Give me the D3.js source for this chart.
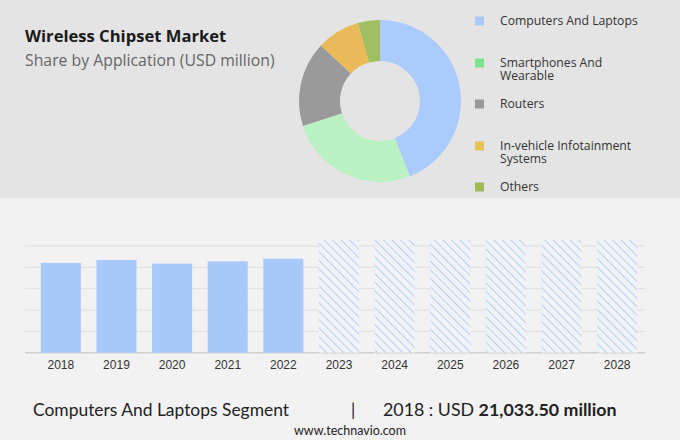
<!DOCTYPE html>
<html>
<head>
<meta charset="utf-8">
<script src="https://cdn.jsdelivr.net/npm/d3@7"></script>
<style>
  html, body { margin: 0; padding: 0; background: #f2f2f3; }
  svg { display: block; }
</style>
</head>
<body>
<svg id="chart" width="680" height="440"></svg>
<script>
// ---- data ----
const segments = ["Computers And Laptops", "Smartphones And Wearable", "Routers", "In-vehicle Infotainment Systems", "Others"];
const legendLines = [["Computers And Laptops"], ["Smartphones And", "Wearable"], ["Routers"], ["In-vehicle Infotainment", "Systems"], ["Others"]];
const shares = [44, 26, 17, 8.6, 4.4];
const sliceColors = ["#abcbfd", "#b9f1c3", "#9a9a9a", "#eab958", "#9fbf60"];
const legendColors = ["#a9c9fb", "#7fe08f", "#9a9a9a", "#e6c253", "#9cbb58"];

const years = ["2018", "2019", "2020", "2021", "2022", "2023", "2024", "2025", "2026", "2027", "2028"];
const actualValues = [21033.5, 21720, 20850, 21390, 22020];
const forecastCap = 26400;           // hatched placeholder bars for forecast years
const gridTicks = [0, 5000, 10000, 15000, 20000, 25000];

const title = "Wireless Chipset Market";
const subtitle = "Share by Application (USD million)";
const footerSegment = "Computers And Laptops Segment";
const footerYear = "2018 : USD ";
const footerValue = "21,033.50 million";
const source = "www.technavio.com";

// ---- drawing ----
const svg = d3.select("#chart");

svg.append("rect").attr("x", 0).attr("y", 0).attr("width", 680).attr("height", 440).attr("fill", "#f2f2f3");
svg.append("rect").attr("x", 0).attr("y", 0).attr("width", 680).attr("height", 198).attr("fill", "#e4e4e4");

const defs = svg.append("defs");
const pat = defs.append("pattern").attr("id", "hatch")
  .attr("patternUnits", "userSpaceOnUse").attr("width", 6).attr("height", 6)
  .attr("patternTransform", "rotate(45)");
pat.append("rect").attr("width", 6).attr("height", 6).attr("fill", "#eff2f7");
pat.append("line").attr("x1", 0).attr("y1", 0).attr("x2", 6).attr("y2", 0)
  .attr("stroke", "#b3cdf2").attr("stroke-width", 1.8);

// titles
svg.append("text").attr("x", 25).attr("y", 42).text(title)
  .attr("font-family", "'Open Sans', sans-serif").attr("font-weight", 700)
  .attr("font-size", 16.6).attr("fill", "#1a1a1a");
svg.append("text").attr("x", 25).attr("y", 66).text(subtitle)
  .attr("font-family", "'Open Sans', sans-serif")
  .attr("font-size", 15.8).attr("fill", "#666");

// donut
const pie = d3.pie().sort(null).value(d => d);
const arc = d3.arc().innerRadius(40).outerRadius(81);
const g = svg.append("g").attr("transform", "translate(380,101)");
g.selectAll("path").data(pie(shares)).join("path")
  .attr("d", arc).attr("fill", (d, i) => sliceColors[i]);

// legend
const legendY = [21, 63, 104, 146, 187];
const lg = svg.append("g");
legendLines.forEach((lines, i) => {
  lg.append("rect").attr("x", 475).attr("y", legendY[i] - 4.5).attr("width", 9).attr("height", 9)
    .attr("fill", legendColors[i]);
  const y0 = legendY[i] + 4;
  lines.forEach((l, j) => {
    lg.append("text").attr("x", 500).attr("y", y0 + j * 12.5).text(l)
      .attr("font-family", "'Open Sans', sans-serif")
      .attr("font-size", 12.2).attr("fill", "#333");
  });
});

// bar chart
const x = d3.scaleBand().domain(years).range([33, 645]).paddingInner(0.28).paddingOuter(0.14);
const y = d3.scaleLinear().domain([0, forecastCap]).range([352.7, 240]);

const grid = svg.append("g");
grid.selectAll("line").data(gridTicks).join("line")
  .attr("x1", 25).attr("x2", 645)
  .attr("y1", d => y(d)).attr("y2", d => y(d))
  .attr("stroke", d => d === 0 ? "#cfcfcf" : "#dedede").attr("stroke-width", d => d === 0 ? 1.5 : 1);

svg.append("g").selectAll("rect").data(years.slice(actualValues.length)).join("rect")
  .attr("x", d => x(d)).attr("width", x.bandwidth())
  .attr("y", y(forecastCap)).attr("height", y(0) - y(forecastCap))
  .attr("fill", "url(#hatch)");

svg.append("g").selectAll("rect").data(actualValues).join("rect")
  .attr("x", (d, i) => x(years[i])).attr("width", x.bandwidth())
  .attr("y", d => y(d)).attr("height", d => y(0) - y(d))
  .attr("fill", "#a9c9fb");

const axis = d3.axisBottom(x).tickSize(0).tickPadding(8);
const ax = svg.append("g").attr("transform", `translate(0,${y(0)})`).call(axis);
ax.select(".domain").remove();
ax.selectAll("text").attr("font-family", "'Liberation Sans', Arial, sans-serif")
  .attr("font-size", 12).attr("fill", "#333");

// footer
const ff = "Lato, sans-serif";
svg.append("text").attr("x", 33).attr("y", 416).text(footerSegment)
  .attr("font-family", ff).attr("font-size", 17.5).attr("fill", "#222")
  .attr("textLength", 256).attr("lengthAdjust", "spacingAndGlyphs");
svg.append("text").attr("x", 351).attr("y", 416).text("|")
  .attr("font-family", ff).attr("font-size", 17).attr("fill", "#222");
const ft = svg.append("text").attr("x", 383).attr("y", 416)
  .attr("font-family", ff).attr("font-size", 17.8).attr("fill", "#222");
ft.append("tspan").text(footerYear);
ft.append("tspan").attr("font-weight", 700).text(footerValue);
svg.append("text").attr("x", 350).attr("y", 435).attr("text-anchor", "middle").text(source)
  .attr("font-family", ff).attr("font-size", 12.5).attr("fill", "#222");
</script>
</body>
</html>
